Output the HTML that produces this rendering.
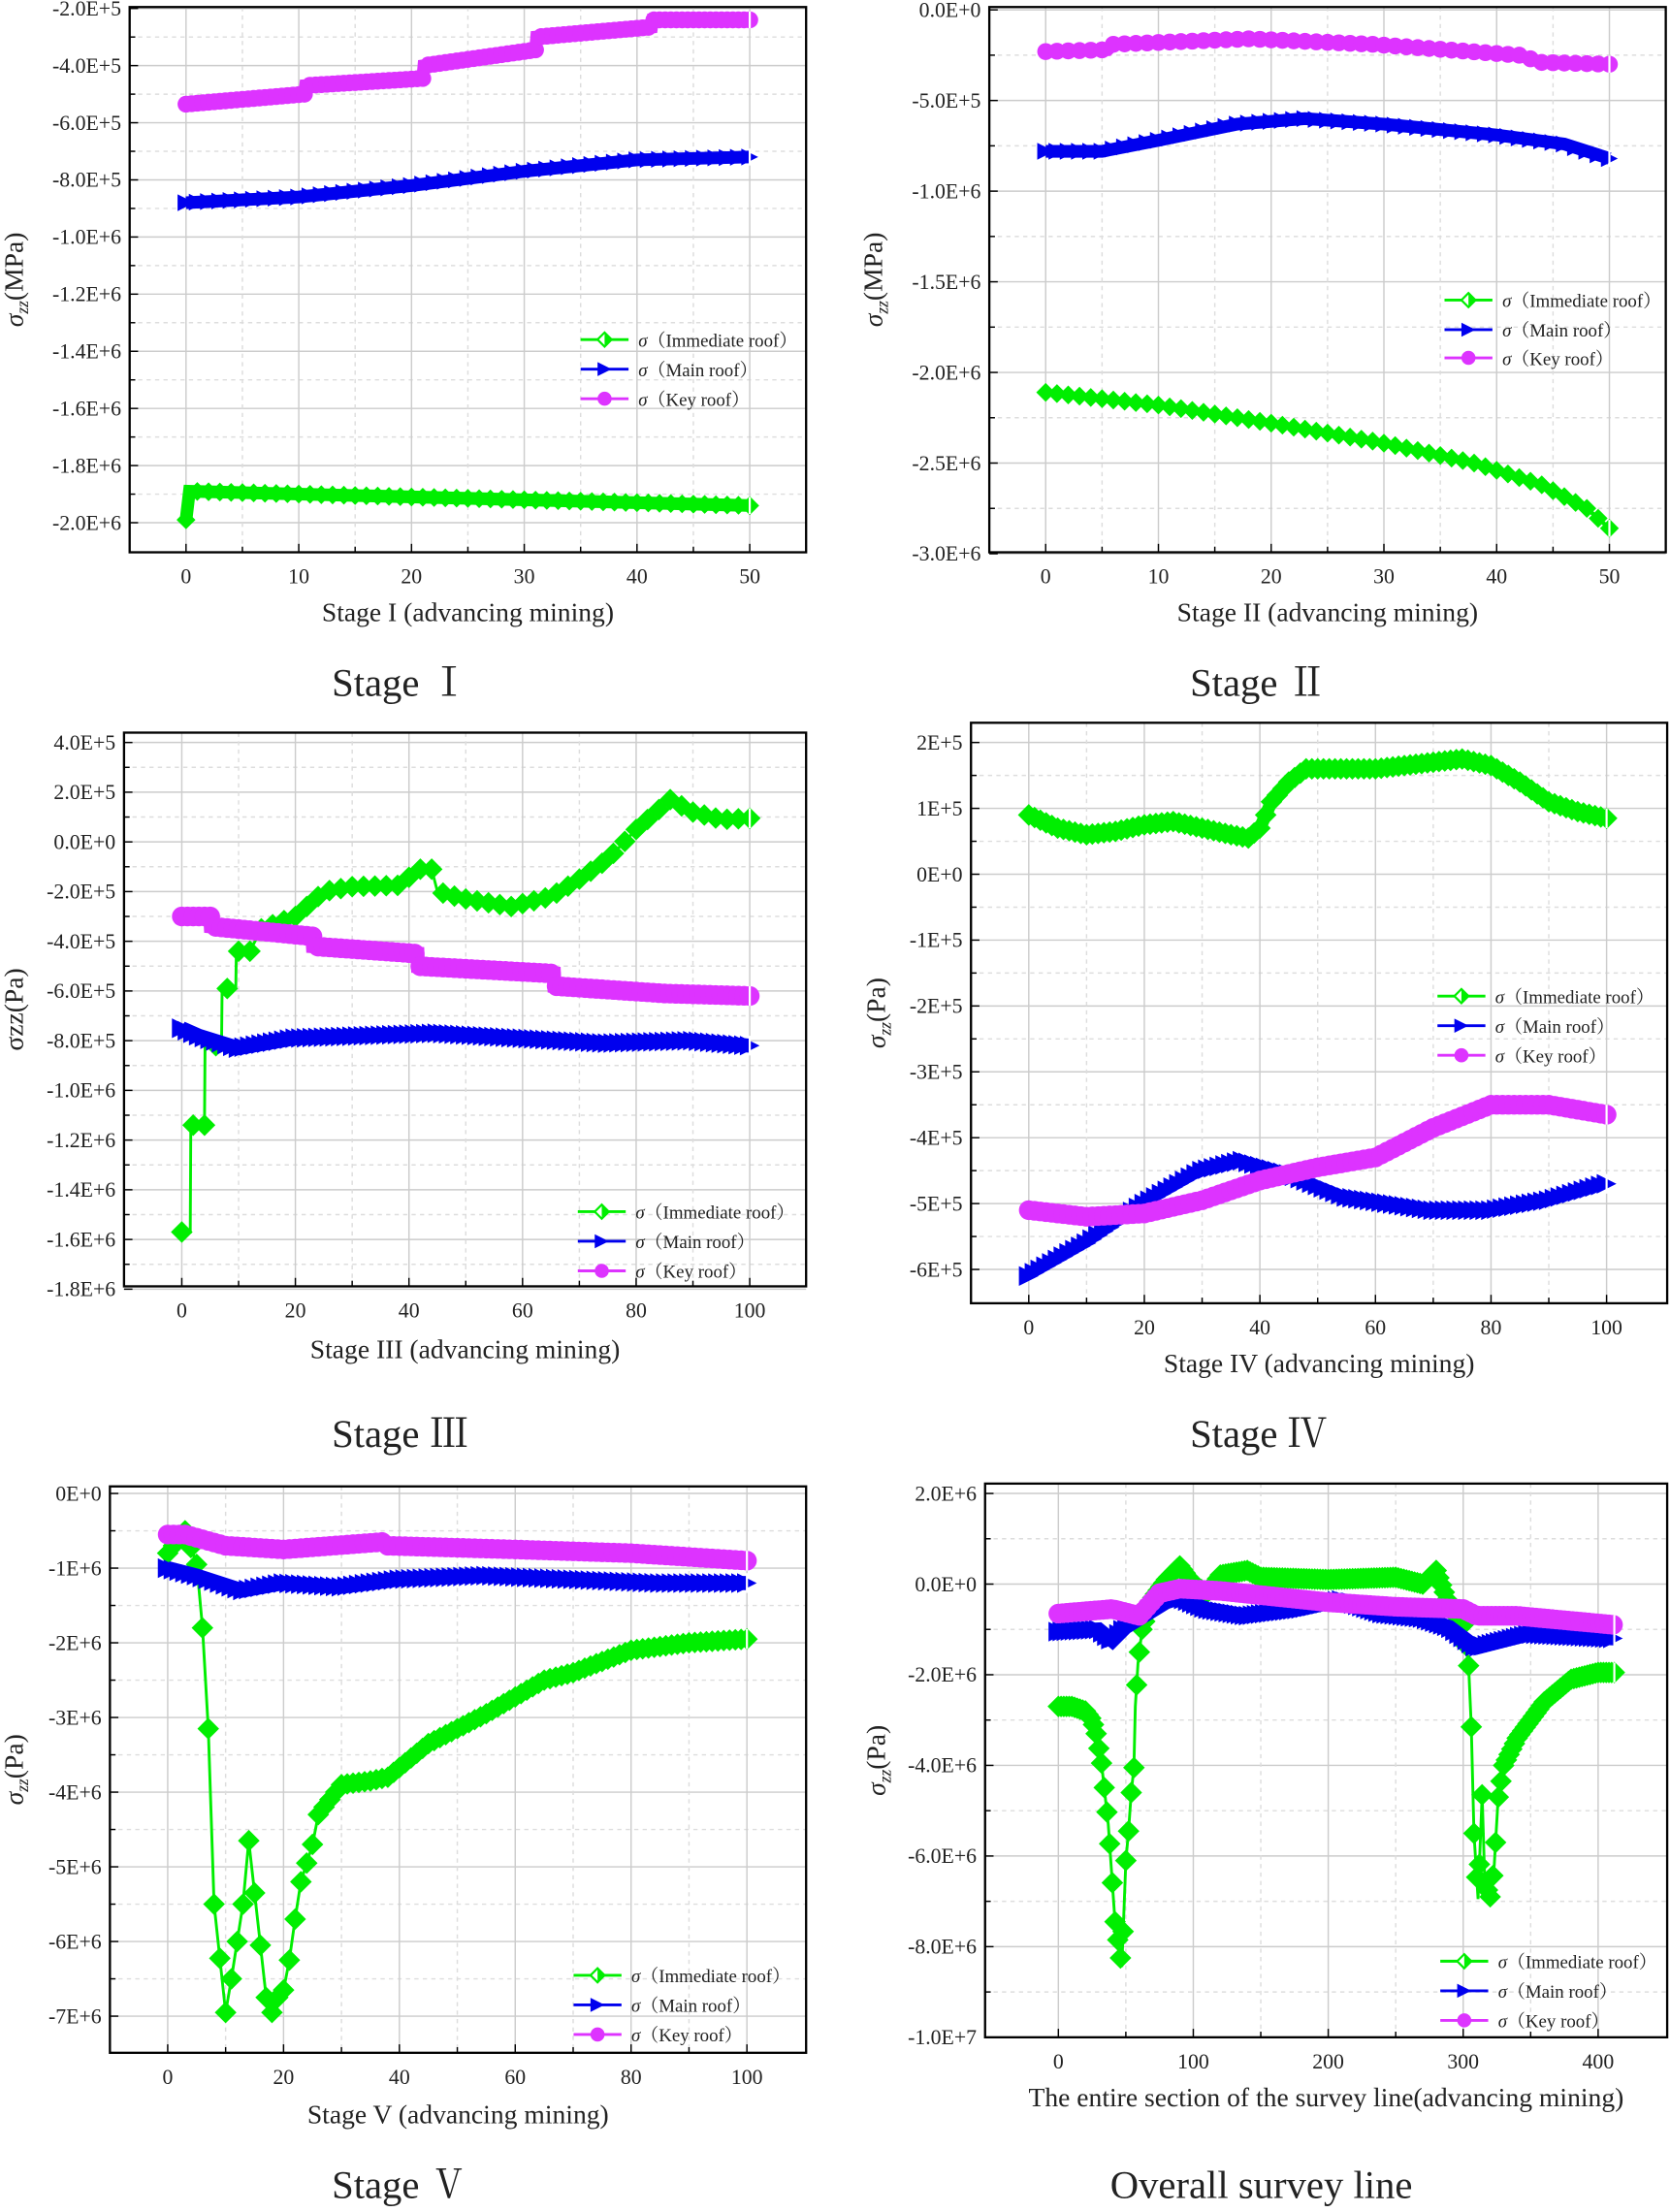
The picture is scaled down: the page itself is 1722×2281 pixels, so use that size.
<!DOCTYPE html>
<html><head><meta charset="utf-8"><style>
html,body{margin:0;padding:0;background:#fff;}
svg{display:block;}
text{font-family:"Liberation Serif","Noto Serif CJK SC",serif;fill:#222;}
</style></head><body>
<svg id="s" width="1722" height="2281" viewBox="0 0 1185 1570" preserveAspectRatio="none" xmlns="http://www.w3.org/2000/svg"></svg>
<script>
const S=document.getElementById('s');let h='';
const G='#00ee00',B='#0000ee',M='#dd33ff';
function interp(pts,x){for(let i=0;i<pts.length-1;i++){if(x>=pts[i][0]&&x<=pts[i+1][0]){const a=pts[i],b=pts[i+1];if(b[0]==a[0])return b[1];return a[1]+(b[1]-a[1])*(x-a[0])/(b[0]-a[0]);}}return pts[pts.length-1][1];}
function panel(p){
 const X=v=>p.x0+(v-p.xa)*(p.x1-p.x0)/(p.xb-p.xa);
 const Y=v=>p.y0+(v-p.ya)*(p.y1-p.y0)/(p.yb-p.ya);
 p.yt.forEach((t,i)=>{const y=Y(t[0]);h+=`<line x1="${p.L}" x2="${p.R}" y1="${y}" y2="${y}" stroke="#ccc" stroke-width="1"/>`;
  if(i<p.yt.length-1){const ym=(y+Y(p.yt[i+1][0]))/2;h+=`<line x1="${p.L}" x2="${p.R}" y1="${ym}" y2="${ym}" stroke="#ddd" stroke-dasharray="3,3"/><line x1="${p.L}" x2="${p.L+4}" y1="${ym}" y2="${ym}" stroke="#000"/>`;}
  h+=`<line x1="${p.L}" x2="${p.L+6}" y1="${y}" y2="${y}" stroke="#000"/><text x="${p.L-6}" y="${y+5}" font-size="15" text-anchor="end">${t[1]}</text>`;});
 p.xt.forEach((t,i)=>{const x=X(t);h+=`<line x1="${x}" x2="${x}" y1="${p.T}" y2="${p.Bm}" stroke="#ccc"/><line x1="${x}" x2="${x}" y1="${p.Bm}" y2="${p.Bm-6}" stroke="#000"/><text x="${x}" y="${p.Bm+22}" font-size="15" text-anchor="middle">${t}</text>`;
  if(i<p.xt.length-1){const xm=(x+X(p.xt[i+1]))/2;h+=`<line x1="${xm}" x2="${xm}" y1="${p.T}" y2="${p.Bm}" stroke="#ddd" stroke-dasharray="3,3"/><line x1="${xm}" x2="${xm}" y1="${p.Bm}" y2="${p.Bm-4}" stroke="#000"/>`;}});
 h+=`<svg x="${p.L}" y="${p.T-12}" width="${p.R-p.L+14}" height="${p.Bm-p.T+12}" overflow="hidden"><g transform="translate(${-p.L},${-(p.T-12)})">`;
 p.series.forEach(s=>{
  let mk='';const st=s.step||p.step;
  let path='';s.d.forEach((q,i)=>{path+=(i?'L':'M')+X(q[0]).toFixed(1)+','+Y(q[1]).toFixed(1);});
  h+=`<path d="${path}" fill="none" stroke="${s.c}" stroke-width="${s.w||2}"/>`;
  const r=s.r||6;
  for(let v=s.d[0][0];v<=s.d[s.d.length-1][0]+1e-9;v+=st){const x=X(v),y=Y(interp(s.d,v));
   if(s.k=='d')mk+=`<path d="M${x-r},${y}L${x},${y-r}L${x+r},${y}L${x},${y+r}Z" fill="${s.c}" stroke="${s.c}" stroke-width="1"/>`;
   else if(s.k=='t')mk+=`<path d="M${x-r},${y-r}L${x+r},${y}L${x-r},${y+r}Z" fill="${s.c}"/>`;
   else mk+=`<circle cx="${x}" cy="${y}" r="${r}" fill="${s.c}"/>`;}
  h+=mk;
  const e=s.d[s.d.length-1],ex=X(e[0]),ey=Y(e[1]);
  h+=`<path d="M${ex},${ey-r}L${ex},${ey+r}" stroke="#fff" stroke-width="1.5"/>`;
 });
 h+=`</g></svg>`;
 h+=`<rect x="${p.L}" y="${p.T}" width="${p.R-p.L}" height="${p.Bm-p.T}" fill="none" stroke="#000" stroke-width="1.6"/>`;
 const names=['Immediate roof','Main roof','Key roof'],cs=[G,B,M];
 p.lg[1].forEach((ly,i)=>{const lx=p.lg[0];h+=`<line x1="${lx}" x2="${lx+34}" y1="${ly}" y2="${ly}" stroke="${cs[i]}" stroke-width="2"/>`;
  const x=lx+17,y=ly,r=5;
  if(i==0)h+=`<path d="M${x-r},${y}L${x},${y-r}L${x+r},${y}L${x},${y+r}Z" fill="#fff" stroke="${G}" stroke-width="1.5"/><path d="M${x},${y-r}L${x+r},${y}L${x},${y+r}Z" fill="${G}"/>`;
  else if(i==1)h+=`<path d="M${x-r},${y-r}L${x+r},${y}L${x-r},${y+r}Z" fill="${B}"/>`;
  else h+=`<circle cx="${x}" cy="${y}" r="${r}" fill="${M}"/>`;
  h+=`<text x="${lx+41}" y="${ly+5}" font-size="13"><tspan font-style="italic">σ</tspan>（${names[i]}）</text>`;});
 h+=`<text x="${(p.L+p.R)/2}" y="${p.xtY}" font-size="19" text-anchor="middle">${p.xtitle}</text>`;
 h+=`<text transform="translate(${p.ytX},${(p.T+p.Bm)/2}) rotate(-90)" font-size="19" text-anchor="middle">${p.ytitle}</text>`;
 h+=`<text x="${p.cap[0]}" y="${p.cap[1]}" font-size="28" text-anchor="middle" font-family="Liberation Sans,DejaVu Sans,sans-serif">${p.cap[2]}</text>`;
}
const sz='<tspan font-style="italic">σ</tspan><tspan font-style="italic" font-size="12" dy="4">zz</tspan><tspan dy="-4">';
function yt(a,b,st,f){const r=[];for(let v=a;v>=b-1e-6;v-=st)r.push([v,f(v)]);return r;}
function fmt(v){if(v==0)return'0.0E+0';const s=v<0?'-':'';v=Math.abs(v);let e=Math.floor(Math.log10(v)+1e-9);const m=(v/Math.pow(10,e)).toFixed(1);return s+m+'E+'+e;}
function fmtI(v){if(v==0)return'0E+0';const s=v<0?'-':'';v=Math.abs(v);let e=Math.floor(Math.log10(v)+1e-9);return s+Math.round(v/Math.pow(10,e))+'E+'+e;}
panel({L:92,R:572,T:5,Bm:392,x0:132,x1:532,xa:0,xb:50,y0:6,y1:371,ya:-2e5,yb:-2e6,step:1,
 yt:yt(-2e5,-2e6,2e5,fmt),xt:[0,10,20,30,40,50],
 series:[{c:G,k:'d',d:[[0,-1.99e6],[0.3,-1.89e6],[50,-1.94e6]],w:9,r:6},
 {c:B,k:'t',d:[[0,-8.8e5],[10,-8.6e5],[20,-8.2e5],[30,-7.7e5],[40,-7.3e5],[50,-7.2e5]],w:9,r:6},
 {c:M,k:'c',d:[[0,-5.35e5],[10.5,-5.0e5],[10.6,-4.7e5],[21,-4.45e5],[21.1,-4.0e5],[31,-3.45e5],[31.1,-3.0e5],[41.3,-2.65e5],[41.4,-2.4e5],[50,-2.4e5]],w:9,r:6,step:0.5}],
 lg:[412,[241,262,283]],xtitle:'Stage I (advancing mining)',xtY:441,ytitle:sz+'(MPa)</tspan>',ytX:16,cap:[284,494,'Stage Ⅰ']});
panel({L:702,R:1182,T:5,Bm:392,x0:742,x1:1142,xa:0,xb:50,y0:7,y1:393,ya:0,yb:-3e6,step:1,
 yt:yt(0,-3e6,5e5,v=>v==0?'0.0E+0':fmt(v)),xt:[0,10,20,30,40,50],
 series:[{c:G,k:'d',d:[[0,-2.11e6],[10,-2.18e6],[20,-2.28e6],[30,-2.39e6],[38,-2.5e6],[44,-2.62e6],[48,-2.75e6],[50,-2.86e6]],w:3,r:6},
 {c:B,k:'t',d:[[0,-7.8e5],[5,-7.8e5],[10,-7.2e5],[17,-6.3e5],[23,-6.0e5],[30,-6.3e5],[40,-6.9e5],[46,-7.4e5],[50,-8.2e5]],w:9,r:6},
 {c:M,k:'c',d:[[0,-2.3e5],[5.5,-2.2e5],[6,-1.9e5],[18,-1.6e5],[29,-1.9e5],[42,-2.5e5],[44,-2.9e5],[50,-3.0e5]],w:9,r:6}],
 lg:[1025,[213,234,254]],xtitle:'Stage II (advancing mining)',xtY:441,ytitle:sz+'(MPa)</tspan>',ytX:626,cap:[893,494,'Stage Ⅱ']});
panel({L:88,R:572,T:520,Bm:913,x0:129,x1:532,xa:0,xb:100,y0:527,y1:915,ya:4e5,yb:-1.8e6,step:1,
 yt:yt(4e5,-1.8e6,2e5,fmt),xt:[0,20,40,60,80,100],
 series:[{c:G,k:'d',d:[[0,-1.57e6],[1.5,-1.57e6],[1.6,-1.14e6],[4,-1.14e6],[4.1,-8.2e5],[7,-8.2e5],[7.1,-5.9e5],[9.5,-5.9e5],[9.6,-4.4e5],[12,-4.4e5],[14,-3.5e5],[20,-3.0e5],[25,-2.0e5],[30,-1.8e5],[38,-1.75e5],[42,-1.1e5],[44,-1.1e5],[45,-2.0e5],[50,-2.3e5],[58,-2.6e5],[65,-2.2e5],[70,-1.5e5],[75,-7e4],[80,5e4],[86,1.7e5],[90,1.2e5],[95,9e4],[100,9.5e4]],w:2,r:7,step:2},
 {c:B,k:'t',d:[[0,-7.5e5],[3,-7.8e5],[10,-8.3e5],[20,-7.9e5],[45,-7.7e5],[75,-8.1e5],[90,-8.0e5],[100,-8.2e5]],w:10,r:7},
 {c:M,k:'c',d:[[0,-3.0e5],[5,-3.0e5],[5.1,-3.4e5],[23,-3.8e5],[23.1,-4.2e5],[41.5,-4.5e5],[41.6,-5.0e5],[65.5,-5.3e5],[65.6,-5.8e5],[85,-6.1e5],[100,-6.2e5]],w:10,r:7}],
 lg:[410,[860,881,902]],xtitle:'Stage III (advancing mining)',xtY:964,ytitle:'σzz(Pa)',ytX:16,cap:[284,1027,'Stage Ⅲ']});
panel({L:689,R:1183,T:513,Bm:925,x0:730,x1:1140,xa:0,xb:100,y0:527,y1:901,ya:2e5,yb:-6e5,step:1,
 yt:yt(2e5,-6e5,1e5,fmtI),xt:[0,20,40,60,80,100],
 series:[{c:G,k:'d',d:[[0,9e4],[5,7e4],[10,6e4],[15,6.5e4],[20,7.5e4],[25,8e4],[30,7e4],[35,6e4],[38,5.5e4],[40,7e4],[42,1.1e5],[45,1.4e5],[48,1.6e5],[55,1.6e5],[60,1.6e5],[70,1.7e5],[75,1.75e5],[80,1.65e5],[85,1.4e5],[90,1.1e5],[95,9.5e4],[100,8.5e4]],w:9,r:7},
 {c:B,k:'t',d:[[0,-6.1e5],[10,-5.6e5],[20,-5.0e5],[30,-4.5e5],[37,-4.35e5],[45,-4.55e5],[55,-4.9e5],[70,-5.1e5],[80,-5.1e5],[90,-4.95e5],[100,-4.7e5]],w:6,r:7},
 {c:M,k:'c',d:[[0,-5.1e5],[10,-5.2e5],[20,-5.15e5],[30,-4.95e5],[40,-4.65e5],[50,-4.45e5],[60,-4.3e5],[70,-3.85e5],[80,-3.5e5],[90,-3.5e5],[100,-3.65e5]],w:6,r:7}],
 lg:[1020,[707,728,749]],xtitle:'Stage IV (advancing mining)',xtY:974,ytitle:sz+'(Pa)</tspan>',ytX:628,cap:[893,1027,'Stage Ⅳ']});
panel({L:78,R:572,T:1055,Bm:1457,x0:119,x1:530,xa:0,xb:100,y0:1060,y1:1431,ya:0,yb:-7e6,step:1,
 yt:yt(0,-7e6,1e6,fmtI),xt:[0,20,40,60,80,100],
 series:[{c:G,k:'d',d:[[0,-8e5],[3,-5e5],[5,-9.5e5],[6,-1.8e6],[7,-3.15e6],[8,-5.5e6],[10,-6.95e6],[11,-6.5e6],[13,-5.5e6],[14,-4.65e6],[16,-6.05e6],[17,-6.75e6],[18,-6.95e6],[19,-6.75e6],[20,-6.65e6],[21,-6.25e6],[22,-5.7e6],[23,-5.2e6],[25,-4.7e6],[26,-4.3e6],[28,-4.1e6],[30,-3.9e6],[35,-3.85e6],[38,-3.8e6],[45,-3.35e6],[55,-2.95e6],[65,-2.5e6],[70,-2.4e6],[80,-2.1e6],[90,-2.0e6],[100,-1.95e6]],w:2,r:7,step:1},
 {c:B,k:'t',d:[[0,-1.0e6],[5,-1.1e6],[13,-1.3e6],[20,-1.2e6],[30,-1.25e6],[40,-1.15e6],[55,-1.1e6],[70,-1.15e6],[85,-1.2e6],[100,-1.2e6]],w:10,r:7},
 {c:M,k:'c',d:[[0,-5.5e5],[3,-5.5e5],[10,-7e5],[20,-7.5e5],[37,-6.5e5],[38,-7e5],[60,-7.5e5],[80,-8e5],[100,-9e5]],w:10,r:7}],
 lg:[407,[1402,1423,1444]],xtitle:'Stage V (advancing mining)',xtY:1507,ytitle:sz+'(Pa)</tspan>',ytX:16,cap:[284,1560,'Stage Ⅴ']});
panel({L:699,R:1183,T:1053,Bm:1446,x0:751,x1:1134,xa:0,xb:400,y0:1060,y1:1446,ya:2e6,yb:-1e7,step:3,
 yt:yt(2e6,-1e7,2e6,fmt),xt:[0,100,200,300,400],
 series:[{c:G,k:'d',d:[[0,-2.7e6],[10,-2.7e6],[20,-2.8e6],[25,-3.0e6],[28,-3.3e6],[32,-3.95e6],[37,-5.3e6],[42,-7.45e6],[47,-8.45e6],[50,-6.1e6],[52,-5.45e6],[54,-4.6e6],[56,-4.05e6],[57,-2.7e6],[59,-1.75e6],[62,-1.0e6],[70,-3e5],[80,1e5],[90,4e5],[100,0],[110,-2e5],[120,2e5],[140,3e5],[150,1.5e5],[200,1e5],[250,1.5e5],[270,0],[280,3e5],[290,-5e5],[300,-9e5],[304,-1.8e6],[306,-3.15e6],[308,-5.5e6],[311,-6.95e6],[314,-4.65e6],[316,-6.6e6],[320,-6.9e6],[323,-6.2e6],[326,-4.7e6],[330,-4.0e6],[340,-3.4e6],[360,-2.6e6],[380,-2.1e6],[400,-1.95e6],[412,-1.95e6]],w:2,r:7,step:2},
 {c:B,k:'t',d:[[0,-1.05e6],[30,-1.0e6],[40,-1.25e6],[50,-9.5e5],[80,-4e5],[90,-3e5],[110,-5.5e5],[140,-7e5],[180,-5.5e5],[210,-3.5e5],[240,-6.5e5],[270,-7.5e5],[290,-9.5e5],[310,-1.4e6],[330,-1.25e6],[350,-1.1e6],[412,-1.2e6]],w:10,r:7},
 {c:M,k:'c',d:[[0,-6.5e5],[40,-5.5e5],[60,-7e5],[75,-2e5],[90,-1e5],[120,-1.5e5],[200,-4e5],[250,-5e5],[300,-5.5e5],[310,-7e5],[340,-7e5],[412,-9e5]],w:10,r:7}],
 lg:[1022,[1392,1413,1434]],xtitle:'The entire section of the survey line(advancing mining)',xtY:1495,ytitle:sz+'(Pa)</tspan>',ytX:628,cap:[895,1560,'Overall survey line']});
S.innerHTML=h;
</script>
</body></html>
